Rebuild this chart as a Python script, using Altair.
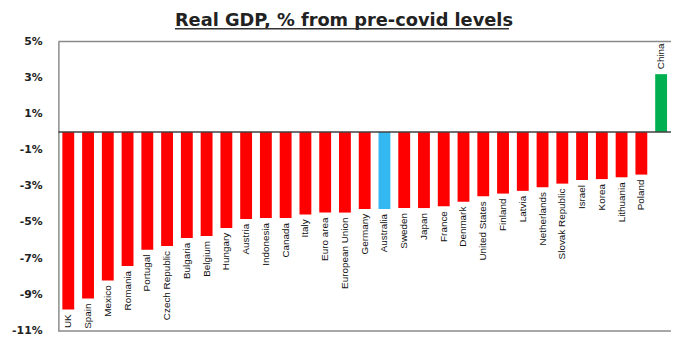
import altair as alt
import pandas as pd

countries = ["UK", "Spain", "Mexico", "Romania", "Portugal", "Czech Republic", "Bulgaria",
             "Belgium", "Hungary", "Austria", "Indonesia", "Canada", "Italy", "Euro area",
             "European Union", "Germany", "Australia", "Sweden", "Japan", "France", "Denmark",
             "United States", "Finland", "Latvia", "Netherlands", "Slovak Republic", "Israel",
             "Korea", "Lithuania", "Poland", "China"]
values = [-9.8, -9.2, -8.2, -7.4, -6.5, -6.3, -5.85, -5.75, -5.3, -4.8, -4.75, -4.75, -4.55,
          -4.45, -4.45, -4.25, -4.25, -4.2, -4.2, -4.1, -3.85, -3.55, -3.4, -3.25, -3.05,
          -2.85, -2.65, -2.6, -2.5, -2.35, 3.2]
groups = ["other"] * 16 + ["Australia"] + ["other"] * 13 + ["China"]
y_ticks = [-11, -9, -7, -5, -3, -1, 1, 3, 5]
y_tick_labels = ["-11%", "-9%", "-7%", "-5%", "-3%", "-1%", "1%", "3%", "5%"]
title_text = "Real GDP, % from pre-covid levels"

df = pd.DataFrame({"country": countries, "value": values, "group": groups})
ticks_df = pd.DataFrame({"value": y_ticks, "label": y_tick_labels})

W, H = 620, 293

x = alt.X("country:N", sort=countries, axis=None,
          scale=alt.Scale(paddingInner=0.4, paddingOuter=0.2))
yscale = alt.Scale(domain=[-11, 5], nice=False, zero=False)
yaxis = alt.Axis(values=y_ticks, labels=False, grid=False, title=None,
                 ticks=False, domainColor="#8a8a8a", domainWidth=1.5)
y = alt.Y("value:Q", scale=yscale, axis=yaxis, title=None)

base = alt.Chart(df)

bars = base.mark_bar().encode(
    x=x,
    y=y,
    y2=alt.datum(0),
    color=alt.Color("group:N", legend=None,
                    scale=alt.Scale(domain=["other", "Australia", "China"],
                                    range=["#FF0000", "#33B8F2", "#00B050"])),
)

neg_labels = base.transform_filter("datum.value < 0").mark_text(
    angle=270, align="right", baseline="middle", dx=-5,
    font="Liberation Sans", fontSize=10, color="#111111"
).encode(x=x, y=y, text="country:N")

pos_labels = base.transform_filter("datum.value >= 0").mark_text(
    angle=270, align="left", baseline="middle", dx=5,
    font="Liberation Sans", fontSize=10, color="#111111"
).encode(x=x, y=y, text="country:N")

tick_labels = alt.Chart(ticks_df).mark_text(
    align="right", baseline="middle", font="DejaVu Sans", fontWeight="bold",
    fontSize=11, color="#222222"
).encode(y=y, x=alt.value(-16), text="label:N")

one = alt.Chart(pd.DataFrame({"t": [title_text]}))
zero_rule = base.transform_filter("datum.country == 'UK'").mark_rule(
    color="#404040", strokeWidth=1.5).encode(
    y=alt.datum(0), x=alt.value(0), x2=alt.value(W))
top_rule = one.mark_rule(color="#8a8a8a", strokeWidth=1.5).encode(
    y=alt.value(0), x=alt.value(0), x2=alt.value(W))
bottom_rule = one.mark_rule(color="#8a8a8a", strokeWidth=1.5).encode(
    y=alt.value(H), x=alt.value(0), x2=alt.value(W))
title_mark = one.mark_text(font="DejaVu Sans", fontSize=18, fontWeight="bold",
                           color="#222222", align="center", baseline="alphabetic").encode(
    text="t:N", x=alt.value(289), y=alt.value(-16))
underline = one.mark_rule(color="#333333", strokeWidth=1.5).encode(
    y=alt.value(-13), x=alt.value(118), x2=alt.value(456))

chart = alt.layer(bars, neg_labels, pos_labels, tick_labels, zero_rule, top_rule, bottom_rule,
                  title_mark, underline).properties(
    width=W, height=H,
    autosize=alt.AutoSizeParams(type="none"),
    padding={"left": 51, "top": 32, "right": 0, "bottom": 5},
).configure_view(stroke=None)

chart.save("out.html", embed_options={"renderer": "svg", "actions": False})
